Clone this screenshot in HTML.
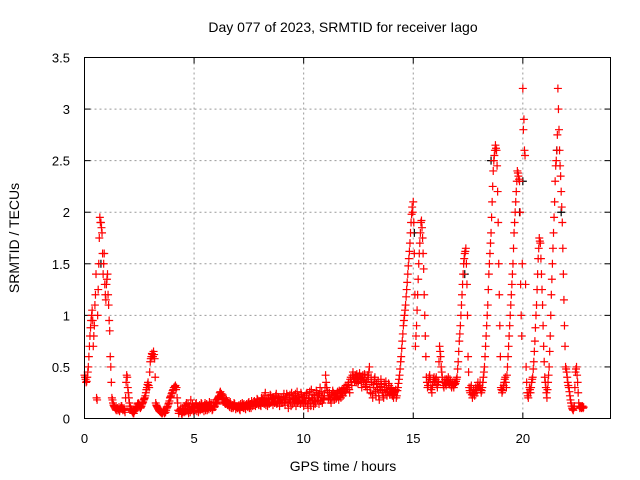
<!DOCTYPE html>
<html><head><meta charset="utf-8"><style>
body{margin:0;background:#fff;}
svg{display:block;font-family:"Liberation Sans",sans-serif;}
</style></head><body>
<svg id="chart" width="640" height="480">
<text x="343" y="32" font-size="14" text-anchor="middle">Day 077 of 2023, SRMTID for receiver Iago</text>
<text x="343" y="471" font-size="14" text-anchor="middle">GPS time / hours</text>
<text transform="translate(19,238) rotate(-90)" font-size="14" text-anchor="middle">SRMTID / TECUs</text>
<g id="grid"></g><g id="ticks"></g><g id="marks"></g>
<rect x="84.5" y="57.5" width="526" height="361" fill="none" stroke="#000"/>
</svg>
<script>
const xTicks=[0,5,10,15,20];
const yTicks=[0,0.5,1,1.5,2,2.5,3,3.5];
const yTickLabels=["0","0.5","1","1.5","2","2.5","3","3.5"];
const sampleStep=0.05;
const values=[
0.42,0.38,0.36,0.45,0.6,0.8,0.95,1.05,0.7,0.9,1.2,0.2,1.0,1.5,1.95,1.9,1.8,1.4,1.6,1.2,
1.3,1.4,1.1,0.85,0.5,0.2,0.15,0.12,0.1,0.08,0.1,0.09,0.07,0.1,0.12,0.08,0.1,0.06,0.35,0.4,
0.25,0.15,0.1,0.08,0.06,0.05,0.08,0.1,0.12,0.15,0.13,0.1,0.12,0.15,0.18,0.2,0.25,0.3,0.35,0.3,
0.55,0.6,0.62,0.65,0.58,0.15,0.12,0.1,0.08,0.07,0.06,0.05,0.08,0.05,0.06,0.1,0.12,0.15,0.2,0.22,
0.25,0.28,0.3,0.32,0.3,0.15,0.05,0.08,0.1,0.04,0.06,0.12,0.08,0.15,0.1,0.05,0.12,0.18,0.08,0.1,
0.12,0.08,0.15,0.1,0.06,0.13,0.09,0.14,0.1,0.07,0.15,0.11,0.08,0.12,0.16,0.1,0.13,0.09,0.15,0.12,
0.18,0.14,0.2,0.22,0.26,0.24,0.22,0.18,0.15,0.2,0.17,0.14,0.12,0.16,0.1,0.13,0.11,0.14,0.09,0.12,
0.1,0.13,0.08,0.12,0.15,0.1,0.12,0.09,0.14,0.11,0.16,0.12,0.1,0.15,0.13,0.17,0.12,0.14,0.18,0.13,
0.15,0.12,0.18,0.2,0.14,0.25,0.16,0.12,0.2,0.15,0.22,0.18,0.13,0.2,0.17,0.24,0.15,0.2,0.12,0.18,
0.2,0.15,0.24,0.13,0.18,0.22,0.1,0.2,0.16,0.25,0.14,0.19,0.22,0.12,0.26,0.17,0.2,0.14,0.23,0.18,
0.12,0.22,0.17,0.25,0.1,0.2,0.15,0.28,0.18,0.12,0.22,0.16,0.25,0.2,0.14,0.3,0.2,0.15,0.18,0.22,
0.42,0.3,0.25,0.18,0.22,0.15,0.2,0.25,0.18,0.22,0.2,0.26,0.18,0.24,0.2,0.28,0.22,0.3,0.25,0.28,
0.3,0.35,0.25,0.4,0.32,0.45,0.38,0.42,0.35,0.4,0.36,0.44,0.38,0.3,0.42,0.35,0.4,0.33,0.28,0.38,
0.5,0.25,0.35,0.2,0.3,0.4,0.22,0.3,0.36,0.18,0.28,0.33,0.25,0.2,0.3,0.36,0.22,0.28,0.32,0.25,
0.3,0.22,0.2,0.25,0.28,0.22,0.3,0.38,0.48,0.6,0.75,0.9,1.0,1.1,1.25,1.4,1.55,1.7,1.9,2.05,
2.1,1.6,0.7,0.9,1.2,1.5,1.7,1.9,1.85,1.6,1.2,0.8,0.4,0.3,0.35,0.42,0.3,0.25,0.35,0.4,
0.35,0.4,0.3,0.35,0.7,0.6,0.45,0.35,0.3,0.38,0.32,0.35,0.4,0.33,0.36,0.3,0.35,0.3,0.33,0.36,
0.4,0.55,0.75,0.9,1.1,1.3,1.5,1.6,1.65,1.3,0.6,0.3,0.25,0.32,0.2,0.28,0.22,0.3,0.25,0.35,
0.3,0.35,0.25,0.3,0.4,0.5,0.7,0.9,1.1,1.4,1.6,1.8,2.1,2.4,2.55,2.65,2.6,2.2,1.5,0.9,
0.3,0.25,0.3,0.35,0.4,0.3,0.5,0.7,0.9,1.1,1.3,1.5,1.8,2.0,2.2,2.4,2.35,2.3,1.3,0.8,
3.2,2.9,2.55,0.5,0.25,0.2,0.3,0.25,0.35,0.4,0.55,0.75,1.0,1.25,1.55,1.75,1.7,1.4,1.1,0.7,
0.4,0.3,0.2,0.35,0.5,0.8,1.2,1.5,1.8,2.1,2.45,2.6,3.2,2.8,2.45,2.2,1.9,1.4,0.9,0.5,
0.45,0.35,0.3,0.22,0.15,0.1,0.08,0.12,0.45,0.5,0.35,0.15,0.1,0.12,0.11,0.1
];
const values2=[
0.4,0.35,0.4,0.5,0.7,0.88,1.0,0.95,0.8,1.1,1.4,0.18,1.25,1.75,1.9,1.85,1.6,1.5,1.3,1.15,
1.35,1.2,0.95,0.6,0.35,0.18,0.13,0.11,0.09,0.1,0.08,0.11,0.09,0.12,0.1,0.09,0.08,0.2,0.42,0.3,
0.2,0.12,0.09,0.07,0.05,0.07,0.09,0.11,0.14,0.14,0.11,0.11,0.14,0.16,0.19,0.22,0.28,0.33,0.32,0.45,
0.58,0.63,0.6,0.62,0.4,0.13,0.11,0.09,0.07,0.06,0.05,0.06,0.07,0.06,0.08,0.11,0.14,0.17,0.21,0.24,
0.27,0.3,0.31,0.28,0.2,0.08,0.07,0.09,0.05,0.1,0.09,0.06,0.13,0.07,0.14,0.09,0.06,0.11,0.14,0.07,
0.1,0.14,0.07,0.12,0.11,0.08,0.15,0.09,0.12,0.13,0.08,0.14,0.1,0.09,0.13,0.15,0.08,0.12,0.11,0.16,
0.15,0.19,0.21,0.25,0.23,0.2,0.16,0.19,0.14,0.18,0.13,0.15,0.11,0.14,0.12,0.1,0.15,0.12,0.11,0.1,
0.12,0.09,0.14,0.11,0.13,0.14,0.1,0.13,0.12,0.15,0.1,0.14,0.17,0.12,0.16,0.13,0.15,0.19,0.14,0.16,
0.13,0.2,0.15,0.17,0.22,0.13,0.19,0.16,0.14,0.23,0.16,0.2,0.19,0.15,0.22,0.14,0.21,0.16,0.2,0.15,
0.18,0.21,0.16,0.2,0.24,0.15,0.18,0.23,0.12,0.2,0.18,0.16,0.24,0.19,0.15,0.21,0.18,0.25,0.16,0.2,
0.2,0.15,0.24,0.14,0.19,0.26,0.12,0.2,0.23,0.17,0.14,0.27,0.18,0.22,0.24,0.17,0.26,0.22,0.19,0.3,
0.35,0.27,0.2,0.25,0.18,0.23,0.27,0.2,0.24,0.19,0.25,0.21,0.27,0.22,0.26,0.24,0.29,0.26,0.32,0.3,
0.33,0.28,0.38,0.35,0.42,0.4,0.36,0.39,0.43,0.34,0.41,0.39,0.35,0.4,0.37,0.43,0.31,0.36,0.42,0.45,
0.3,0.4,0.24,0.33,0.38,0.26,0.34,0.28,0.22,0.31,0.38,0.27,0.22,0.34,0.25,0.3,0.26,0.34,0.23,0.29,
0.24,0.27,0.23,0.26,0.2,0.27,0.34,0.42,0.55,0.68,0.82,0.95,1.05,1.18,1.32,1.48,1.62,1.8,1.98,2.0,
1.9,1.2,0.8,1.05,1.35,1.6,1.8,1.92,1.75,1.45,1.0,0.6,0.35,0.32,0.4,0.38,0.28,0.32,0.38,0.36,
0.38,0.33,0.36,0.55,0.65,0.5,0.4,0.32,0.35,0.34,0.38,0.37,0.34,0.38,0.32,0.33,0.32,0.35,0.34,0.38,
0.48,0.65,0.82,1.0,1.2,1.4,1.55,1.62,1.5,1.0,0.45,0.27,0.3,0.23,0.25,0.24,0.27,0.28,0.32,0.3,
0.32,0.28,0.27,0.35,0.45,0.6,0.8,1.0,1.25,1.5,1.7,1.95,2.25,2.5,2.6,2.62,2.45,1.9,1.2,0.6,
0.28,0.27,0.32,0.38,0.35,0.42,0.6,0.8,1.0,1.2,1.4,1.65,1.9,2.1,2.3,2.38,2.32,2.0,1.0,1.5,
2.8,2.6,1.3,0.35,0.22,0.25,0.28,0.3,0.38,0.48,0.65,0.88,1.1,1.4,1.65,1.72,1.55,1.25,0.9,0.55,
0.35,0.25,0.28,0.42,0.65,1.0,1.35,1.65,1.95,2.3,2.5,2.75,3.0,2.6,2.35,2.05,1.65,1.15,0.7,0.48,
0.4,0.32,0.26,0.18,0.12,0.09,0.1,0.3,0.48,0.42,0.25,0.12,0.11,0.1,0.12,0.11
];
const blackTimes=[0.75,15.05,17.35,18.55,19.85,20.0,21.55,21.75];
const blackValues=[1.5,1.8,1.4,2.5,2.0,2.3,2.6,2.0];

const NS="http://www.w3.org/2000/svg";
const X0=84.5,X1=610.5,Y0=418.5,Y1=57.5;
const xs=t=>X0+(t/24)*(X1-X0);
const ys=v=>Y0-(v/3.5)*(Y0-Y1);
const grid=document.getElementById('grid'),ticks=document.getElementById('ticks'),marks=document.getElementById('marks');
function mk(tag,attrs,parent){const e=document.createElementNS(NS,tag);for(const k in attrs)e.setAttribute(k,attrs[k]);parent.appendChild(e);return e;}
xTicks.forEach(t=>{
  const x=xs(t);
  if(t>0){const g=mk('line',{x1:x,x2:x,y1:Y1,y2:Y0,stroke:'#999','stroke-dasharray':'2,3'},grid);
  
  }
  mk('line',{x1:x,x2:x,y1:Y0,y2:Y0-6,stroke:'#000'},ticks);
  mk('line',{x1:x,x2:x,y1:Y1,y2:Y1+6,stroke:'#000'},ticks);
  const l=mk('text',{x:x,y:443,'font-size':13,'text-anchor':'middle'},ticks);l.textContent=t;
  
  
});
yTicks.forEach((v,i)=>{
  const y=ys(v);
  if(v>0&&v<3.5){const g=mk('line',{x1:X0,x2:X1,y1:y,y2:y,stroke:'#999','stroke-dasharray':'2,3'},grid);
  
  }
  mk('line',{x1:X0,x2:X0+6,y1:y,y2:y,stroke:'#000'},ticks);
  mk('line',{x1:X1,x2:X1-6,y1:y,y2:y,stroke:'#000'},ticks);
  const l=mk('text',{x:70,y:y+5,'font-size':13,'text-anchor':'end'},ticks);l.textContent=yTickLabels[i];
  
  
});
function plus(x,y,c){
  return mk('path',{d:`M${x-4},${y}h8M${x},${y-4}v8`,stroke:c,'stroke-width':1.2,fill:'none'},marks);
}
blackTimes.forEach((t,i)=>{
  const p=plus(xs(t),ys(blackValues[i]),'#000');
  
  
});
values.forEach((v,i)=>{
  const p=plus(xs(i*sampleStep),ys(v),'#f00');
  
  
});
values2.forEach((v,i)=>{
  const p=plus(xs(i*sampleStep+sampleStep/2),ys(v),'#f00');
  
  
});
</script>
</body></html>
